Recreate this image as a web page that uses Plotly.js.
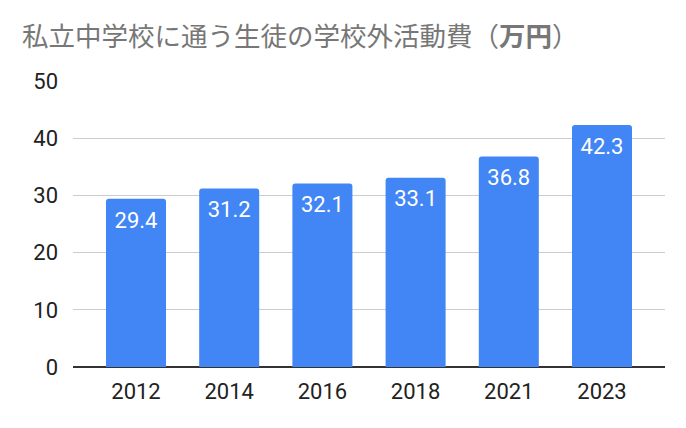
<!DOCTYPE html>
<html>
<head>
<meta charset="utf-8">
<script src="https://cdn.plot.ly/plotly-3.0.1.min.js"></script>
<style>
  html, body { margin: 0; padding: 0; background: #fff; }
  #chart { width: 686px; height: 428px; }
</style>
</head>
<body>
<div id="chart"></div>
<script>
// 私立中学校に通う生徒の学校外活動費（万円）
const years = ['2012', '2014', '2016', '2018', '2021', '2023'];
const costs = [29.4, 31.2, 32.1, 33.1, 36.8, 42.3];
const yTicks = [0, 10, 20, 30, 40, 50];

const barColor = '#4285F4';

const bars = {
  type: 'bar',
  x: years,
  y: costs,
  width: 0.644,
  marker: { color: barColor, cornerradius: 3 },
  hoverinfo: 'x+y'
};

// value labels sit a bit lower inside the bar than plotly's inside text
const labels = {
  type: 'scatter',
  mode: 'markers+text',
  x: years,
  y: costs,
  text: costs.map(v => v.toFixed(1)),
  textposition: 'bottom center',
  marker: { size: 18, opacity: 0 },
  textfont: { family: 'Roboto, Arial, sans-serif', size: 22, color: '#ffffff' },
  hoverinfo: 'skip'
};

const layout = {
  width: 686,
  height: 428,
  margin: { l: 73, r: 21, t: 81, b: 61 },
  paper_bgcolor: '#ffffff',
  plot_bgcolor: '#ffffff',
  showlegend: false,
  font: { family: 'Roboto, Arial, sans-serif', size: 22, color: '#222222' },
  title: {
    text: '私立中学校に通う生徒の学校外活動費（<b>万円</b>）',
    font: { family: '"Noto Sans CJK JP", sans-serif', size: 26.5, color: '#777777' },
    x: 22 / 686,
    xanchor: 'left',
    xref: 'container',
    y: 1 - 37 / 428,
    yanchor: 'middle',
    yref: 'container'
  },
  xaxis: {
    type: 'category',
    range: [-0.676, 5.676],
    showgrid: false,
    zeroline: false,
    showline: false,
    ticks: '',
    ticklabelstandoff: 9,
    tickfont: { size: 22, color: '#222222' },
    fixedrange: true
  },
  yaxis: {
    range: [0, 50],
    tickvals: yTicks,
    ticktext: yTicks.map(String),
    showgrid: true,
    gridcolor: '#cccccc',
    gridwidth: 1,
    zeroline: true,
    zerolinecolor: '#333333',
    zerolinewidth: 2,
    showline: false,
    ticks: '',
    ticklabelstandoff: 14,
    tickfont: { size: 22, color: '#222222' },
    fixedrange: true
  },
  bargap: 0.356
};

Plotly.newPlot('chart', [bars, labels], layout, { displayModeBar: false, staticPlot: true });
</script>
</body>
</html>
